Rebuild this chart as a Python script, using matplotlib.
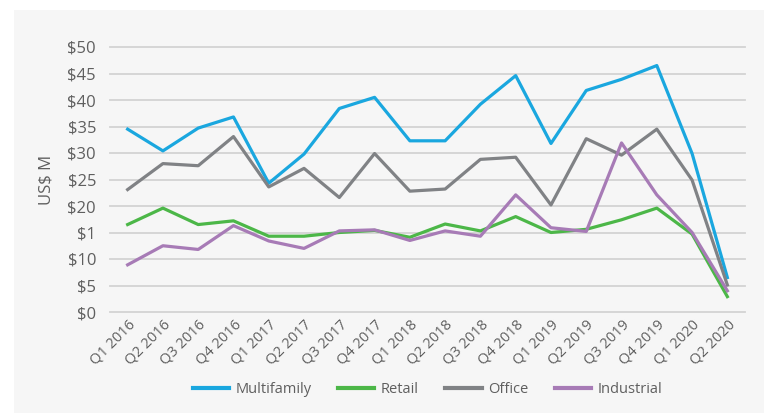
import numpy as np
import matplotlib
matplotlib.use("Agg")
import matplotlib.pyplot as plt
from matplotlib.patches import Rectangle

plt.rcParams['font.family'] = ['Open Sans', 'DejaVu Sans']

quarters = ["Q1 2016", "Q2 2016", "Q3 2016", "Q4 2016", "Q1 2017", "Q2 2017",
            "Q3 2017", "Q4 2017", "Q1 2018", "Q2 2018", "Q3 2018", "Q4 2018",
            "Q1 2019", "Q2 2019", "Q3 2019", "Q4 2019", "Q1 2020", "Q2 2020"]

multifamily = [34.5, 30.4, 34.7, 36.8, 24.3, 29.8, 38.4, 40.5, 32.3, 32.3,
               39.2, 44.6, 31.8, 41.8, 43.9, 46.5, 29.9, 6.5]
retail = [16.5, 19.6, 16.5, 17.2, 14.3, 14.3, 15.0, 15.4, 14.1, 16.6,
          15.3, 18.0, 15.0, 15.6, 17.4, 19.6, 14.7, 2.9]
office = [23.1, 28.0, 27.6, 33.1, 23.6, 27.1, 21.6, 29.9, 22.8, 23.2,
          28.8, 29.2, 20.2, 32.7, 29.6, 34.5, 24.9, 5.1]
industrial = [8.9, 12.5, 11.8, 16.3, 13.4, 12.0, 15.3, 15.5, 13.5, 15.3,
              14.3, 22.1, 15.9, 15.2, 31.9, 22.1, 15.0, 4.0]

y_ticks = [0, 5, 10, 15, 20, 25, 30, 35, 40, 45, 50]
# the source chart labels 15 as "$1"
y_tick_labels = ["$0", "$5", "$10", "$1", "$20", "$25", "$30", "$35", "$40", "$45", "$50"]

series = [
    ("Multifamily", multifamily, "#1aa7df"),
    ("Retail", retail, "#4cb748"),
    ("Office", office, "#808285"),
    ("Industrial", industrial, "#a77bb6"),
]

text_color = "#5f5f5f"
bg = "#f6f6f6"

fig = plt.figure(figsize=(7.64, 4.13), dpi=100)
fig.patch.set_facecolor("white")
fig.patches.append(Rectangle((14 / 764, 0), 1 - 14 / 764, 1 - 10 / 413,
                             transform=fig.transFigure, facecolor=bg,
                             edgecolor="none", zorder=-10))

ax = fig.add_axes([110 / 764, 1 - 312 / 413, 635 / 764, 265 / 413])
ax.set_facecolor(bg)

x = np.arange(len(quarters))
for name, vals, color in series:
    ax.plot(x, vals, color=color, linewidth=2.3, label=name, zorder=3)

ax.set_xlim(-0.5, len(quarters) - 0.5)
ax.set_ylim(0, 50)
ax.set_yticks(y_ticks)
ax.set_yticklabels(y_tick_labels)
ax.set_xticks(x)
ax.set_xticklabels(quarters, rotation=45, ha="right", rotation_mode="anchor")

for t in y_ticks:
    ax.axhline(t, color="#d3d3d3", linewidth=1.3, zorder=1, clip_on=False)

for s in ax.spines.values():
    s.set_visible(False)
ax.tick_params(axis="both", length=0, colors=text_color)
ax.tick_params(axis="y", labelsize=12, pad=10)
ax.tick_params(axis="x", labelsize=10.5, pad=4)

ax.set_ylabel("US$ M", fontsize=12, color=text_color, labelpad=9)

leg = ax.legend(loc="upper center", bbox_to_anchor=(0.5, -0.215), ncol=4,
                frameon=False, fontsize=10.5, handlelength=2.5, columnspacing=1.8,
                handletextpad=0.45, labelcolor=text_color)
for line in leg.get_lines():
    line.set_linewidth(3)

fig.savefig("out.png", dpi=100, facecolor=fig.get_facecolor())
